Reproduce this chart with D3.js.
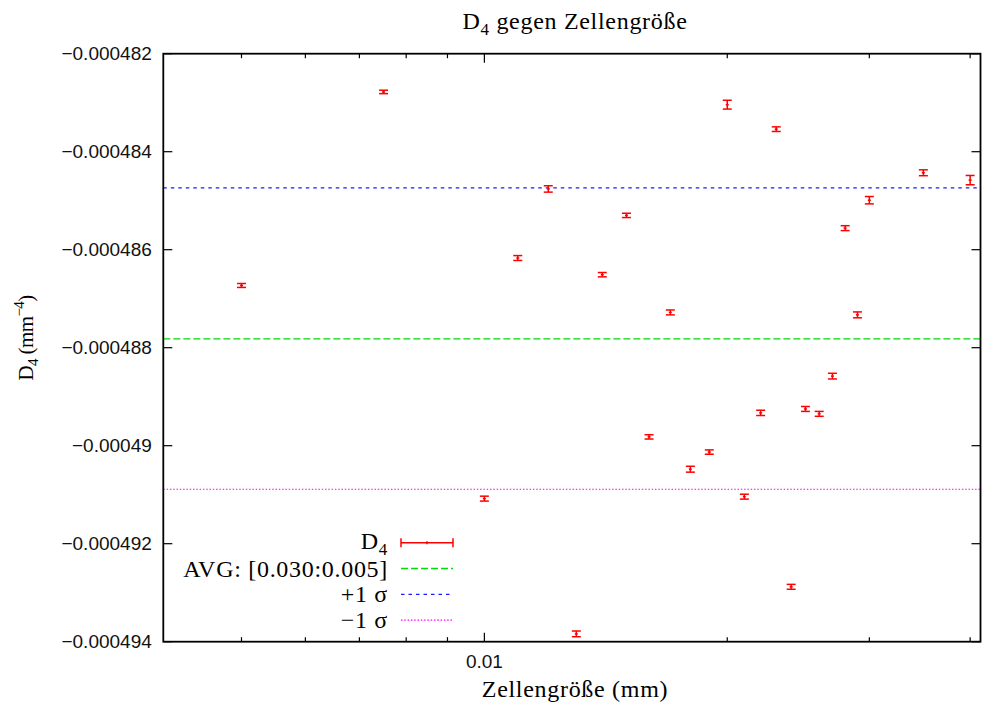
<!DOCTYPE html>
<html>
<head>
<meta charset="utf-8">
<script src="https://cdn.jsdelivr.net/npm/d3@7/dist/d3.min.js"></script>
<style>
  html, body { margin: 0; padding: 0; background: #fff; }
  svg { display: block; }
  .serif { font-family: "Liberation Serif", "Times New Roman", serif; }
  .sans { font-family: "Liberation Sans", Arial, sans-serif; }
</style>
</head>
<body>
<div id="chart"></div>
<script>
// cell size (mm)
const sizes = [0.005, 0.0075, 0.010, 0.011, 0.012, 0.013, 0.014, 0.015, 0.016, 0.017,
               0.018, 0.019, 0.020, 0.021, 0.022, 0.023, 0.024, 0.025, 0.026, 0.027,
               0.028, 0.029, 0.030, 0.035, 0.040];
// D4 values (mm^-4)
const d4 = [-0.00048673, -0.00048278, -0.00049108, -0.00048617, -0.00048476, -0.00049384,
            -0.00048651, -0.00048530, -0.00048982, -0.00048728, -0.00049048, -0.00049013,
            -0.00048304, -0.00049104, -0.00048933, -0.00048354, -0.00049288, -0.00048925,
            -0.00048935, -0.00048858, -0.00048556, -0.00048733, -0.00048499, -0.00048443,
            -0.00048458];
// errors
const d4Err = [0.040e-6, 0.035e-6, 0.050e-6, 0.050e-6, 0.065e-6, 0.058e-6, 0.044e-6, 0.044e-6,
               0.044e-6, 0.050e-6, 0.060e-6, 0.044e-6, 0.090e-6, 0.050e-6, 0.054e-6, 0.047e-6,
               0.050e-6, 0.050e-6, 0.050e-6, 0.058e-6, 0.050e-6, 0.060e-6, 0.075e-6, 0.060e-6,
               0.095e-6];

const avgValue = -0.00048782;
const plusSigma = -0.00048474;
const minusSigma = -0.00049089;

const yTicks = [-0.000494, -0.000492, -0.00049, -0.000488, -0.000486, -0.000484, -0.000482];
const xMajorTicks = [0.01];
const xMinorTicks = [0.005, 0.006, 0.007, 0.008, 0.009, 0.02, 0.03, 0.04];

const width = 982, height = 705;
const plot = { left: 163.3, right: 980.5, top: 53.7, bottom: 641.7 };
const serifSize = 24, serifSpacing = 0.7;

const svg = d3.select("#chart").append("svg")
    .attr("width", width)
    .attr("height", height);

const x = d3.scaleLog().domain([0.004, 0.0412]).range([plot.left, plot.right]);
const y = d3.scaleLinear().domain([-0.000494, -0.000482]).range([plot.bottom, plot.top]);

const fmtY = v => {
    let s = Math.abs(v).toFixed(6).replace(/0+$/, "");
    return (v < 0 ? "\u2212" : "") + s;
};

// Reference lines
const refLines = [
    { v: avgValue, color: "#00dd00", dash: "7,3", w: 1.3 },
    { v: plusSigma, color: "#1a1aff", dash: "3.5,4", w: 1.3 },
    { v: minusSigma, color: "#ff00ff", dash: "1.5,1.8", w: 1.1 }
];
svg.append("g").selectAll("line")
    .data(refLines)
    .enter().append("line")
    .attr("x1", plot.left).attr("x2", plot.right)
    .attr("y1", d => y(d.v)).attr("y2", d => y(d.v))
    .attr("stroke", d => d.color)
    .attr("stroke-width", d => d.w)
    .attr("stroke-dasharray", d => d.dash);

// Axes (gnuplot style: inward ticks, mirrored)
const axes = svg.append("g").attr("stroke", "#000");

axes.selectAll(".ytl").data(yTicks).enter().append("line")
    .attr("x1", plot.left).attr("x2", plot.left + 9)
    .attr("y1", d => y(d)).attr("y2", d => y(d))
    .attr("stroke-width", 1.2);
axes.selectAll(".ytr").data(yTicks).enter().append("line")
    .attr("x1", plot.right).attr("x2", plot.right - 9)
    .attr("y1", d => y(d)).attr("y2", d => y(d))
    .attr("stroke-width", 1.2);

const xTickData = xMajorTicks.map(v => ({ v, len: 9 }))
    .concat(xMinorTicks.map(v => ({ v, len: 4.5 })));
axes.selectAll(".xtb").data(xTickData).enter().append("line")
    .attr("x1", d => x(d.v)).attr("x2", d => x(d.v))
    .attr("y1", plot.bottom).attr("y2", d => plot.bottom - d.len)
    .attr("stroke-width", 1.2);
axes.selectAll(".xtt").data(xTickData).enter().append("line")
    .attr("x1", d => x(d.v)).attr("x2", d => x(d.v))
    .attr("y1", plot.top).attr("y2", d => plot.top + d.len)
    .attr("stroke-width", 1.2);

svg.append("rect")
    .attr("x", plot.left).attr("y", plot.top)
    .attr("width", plot.right - plot.left).attr("height", plot.bottom - plot.top)
    .attr("fill", "none").attr("stroke", "#000").attr("stroke-width", 1.8);

// Tick labels
svg.append("g").attr("class", "sans")
    .selectAll("text").data(yTicks).enter().append("text")
    .attr("x", plot.left - 11.5)
    .attr("y", d => y(d))
    .attr("dy", "0.35em")
    .attr("text-anchor", "end")
    .attr("font-size", 19)
    .attr("fill", "#111")
    .text(fmtY);

svg.append("g").attr("class", "sans")
    .selectAll("text").data(xMajorTicks).enter().append("text")
    .attr("x", d => x(d))
    .attr("y", plot.bottom + 26)
    .attr("text-anchor", "middle")
    .attr("font-size", 19)
    .attr("fill", "#111")
    .text(d => d3.format(".2f")(d));

// Error bars
const pts = sizes.map((s, i) => ({ x: s, y: d4[i], e: d4Err[i] }));
const bars = svg.append("g").attr("stroke", "#ff0000").attr("stroke-width", 1.5);
const bar = bars.selectAll("g").data(pts).enter().append("g");
bar.append("line")
    .attr("x1", d => x(d.x)).attr("x2", d => x(d.x))
    .attr("y1", d => y(d.y - d.e)).attr("y2", d => y(d.y + d.e));
bar.append("line")
    .attr("x1", d => x(d.x) - 4.5).attr("x2", d => x(d.x) + 4.5)
    .attr("y1", d => y(d.y - d.e)).attr("y2", d => y(d.y - d.e));
bar.append("line")
    .attr("x1", d => x(d.x) - 4.5).attr("x2", d => x(d.x) + 4.5)
    .attr("y1", d => y(d.y + d.e)).attr("y2", d => y(d.y + d.e));
bar.append("line")
    .attr("x1", d => x(d.x) - 1.5).attr("x2", d => x(d.x) + 1.5)
    .attr("y1", d => y(d.y)).attr("y2", d => y(d.y));

// Title and axis labels
const title = svg.append("text").attr("class", "serif")
    .attr("x", 575).attr("y", 29)
    .attr("text-anchor", "middle")
    .attr("font-size", serifSize)
    .attr("letter-spacing", serifSpacing);
title.append("tspan").text("D");
title.append("tspan").attr("font-size", 17).attr("dy", 6).text("4");
title.append("tspan").attr("dy", -6).text(" gegen Zellengröße");

svg.append("text").attr("class", "serif")
    .attr("x", 575).attr("y", 697)
    .attr("text-anchor", "middle")
    .attr("font-size", serifSize)
    .attr("letter-spacing", serifSpacing)
    .text("Zellengröße (mm)");

const yl = svg.append("text").attr("class", "serif")
    .attr("transform", "translate(32.5,338) rotate(-90)")
    .attr("text-anchor", "middle")
    .attr("font-size", 21)
    .attr("letter-spacing", -0.6);
yl.append("tspan").text("D");
yl.append("tspan").attr("font-size", 15).attr("dy", 5).text("4");
yl.append("tspan").attr("dy", -5).text(" (mm");
yl.append("tspan").attr("font-size", 15).attr("dy", -9).text("\u22124");
yl.append("tspan").attr("dy", 9).text(")");

// Legend
const legendRows = [
    { label: "D", sub: "4", type: "err" },
    { label: "AVG: [0.030:0.005]", color: "#00dd00", dash: "7,3", w: 1.3 },
    { label: "+1 \u03c3", color: "#1a1aff", dash: "3.5,4", w: 1.3 },
    { label: "\u22121 \u03c3", color: "#ff00ff", dash: "1.5,1.8", w: 1.1 }
];
const lx0 = 401, lx1 = 453, ltx = 388, ly0 = 542.7, lstep = 25.8;
const leg = svg.append("g");
legendRows.forEach((r, i) => {
    const cy = ly0 + i * lstep;
    const t = leg.append("text").attr("class", "serif")
        .attr("x", ltx).attr("y", cy + 8)
        .attr("text-anchor", "end").attr("font-size", serifSize)
        .attr("letter-spacing", serifSpacing);
    if (r.sub) {
        t.attr("y", cy + 6.3);
        t.append("tspan").text(r.label);
        t.append("tspan").attr("font-size", 17).attr("dy", 6).text(r.sub);
    } else {
        t.text(r.label);
    }
    if (r.type === "err") {
        const g = leg.append("g").attr("stroke", "#ff0000").attr("stroke-width", 1.5);
        g.append("line").attr("x1", lx0).attr("x2", lx1).attr("y1", cy).attr("y2", cy);
        g.append("line").attr("x1", lx0).attr("x2", lx0).attr("y1", cy - 4.5).attr("y2", cy + 4.5);
        g.append("line").attr("x1", lx1).attr("x2", lx1).attr("y1", cy - 4.5).attr("y2", cy + 4.5);
        g.append("line").attr("x1", (lx0 + lx1) / 2).attr("x2", (lx0 + lx1) / 2).attr("y1", cy - 1.5).attr("y2", cy + 1.5);
    } else {
        leg.append("line")
            .attr("x1", lx0).attr("x2", lx1).attr("y1", cy).attr("y2", cy)
            .attr("stroke", r.color).attr("stroke-width", r.w)
            .attr("stroke-dasharray", r.dash);
    }
});
</script>
</body>
</html>
